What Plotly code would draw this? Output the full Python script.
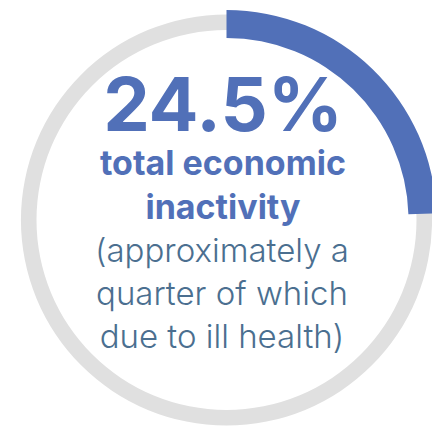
import plotly.graph_objects as go

# The page body has an 8px margin, so the figure is drawn 8px in from the window edge.
OFF = 8
W, H = 440 - OFF, 433 - OFF

# Data
share_labels = ["Economically inactive", "Rest"]
share_values = [24.5, 75.5]
headline = "24.5%"
title_lines = ["total economic", "inactivity"]
note_lines = ["(approximately a", "quarter of which", "due to ill health)"]

BLUE = "#5170b8"
GREY = "#e0e0e0"
NOTE = "#4b6f90"

cx, cy = 226.5 - OFF, 220.0 - OFF

def dom(r):
    return dict(x=[(cx - r) / W, (cx + r) / W],
                y=[(H - cy - r) / H, (H - cy + r) / H])

fig = go.Figure()
fig.add_trace(go.Pie(
    values=[sum(share_values)], labels=["Total"], hole=190 / 205.5,
    domain=dom(205.5), marker=dict(colors=[GREY], line=dict(width=0)),
    textinfo="none", hoverinfo="skip", sort=False, showlegend=False))
fig.add_trace(go.Pie(
    values=share_values, labels=share_labels, hole=182 / 210,
    domain=dom(210), marker=dict(colors=[BLUE, "rgba(0,0,0,0)"], line=dict(width=0)),
    textinfo="none", sort=False, direction="clockwise", rotation=0,
    showlegend=False))

def py(p):
    return 1 - p / H

tx = 214
head_text = ("<span style='font-size:74px'>" + headline + "</span><br>"
             + "<br>".join(title_lines))
note_text = "<br>".join(note_lines)
ann = [
    dict(text=head_text, x=(tx + 1) / W, y=py(221.5), yanchor="bottom",
         font=dict(family="Inter", size=34, color=BLUE, weight=700)),
    dict(text=note_text, x=tx / W, y=py(349.5), yanchor="bottom",
         font=dict(family="Inter", size=33, color=NOTE, weight=300)),
]
for a in ann:
    a.update(xref="paper", yref="paper", showarrow=False, xanchor="center")

fig.update_layout(width=W, height=H, margin=dict(l=0, r=0, t=0, b=0),
                  paper_bgcolor="white", plot_bgcolor="white", annotations=ann)
fig.write_html("out.html")
